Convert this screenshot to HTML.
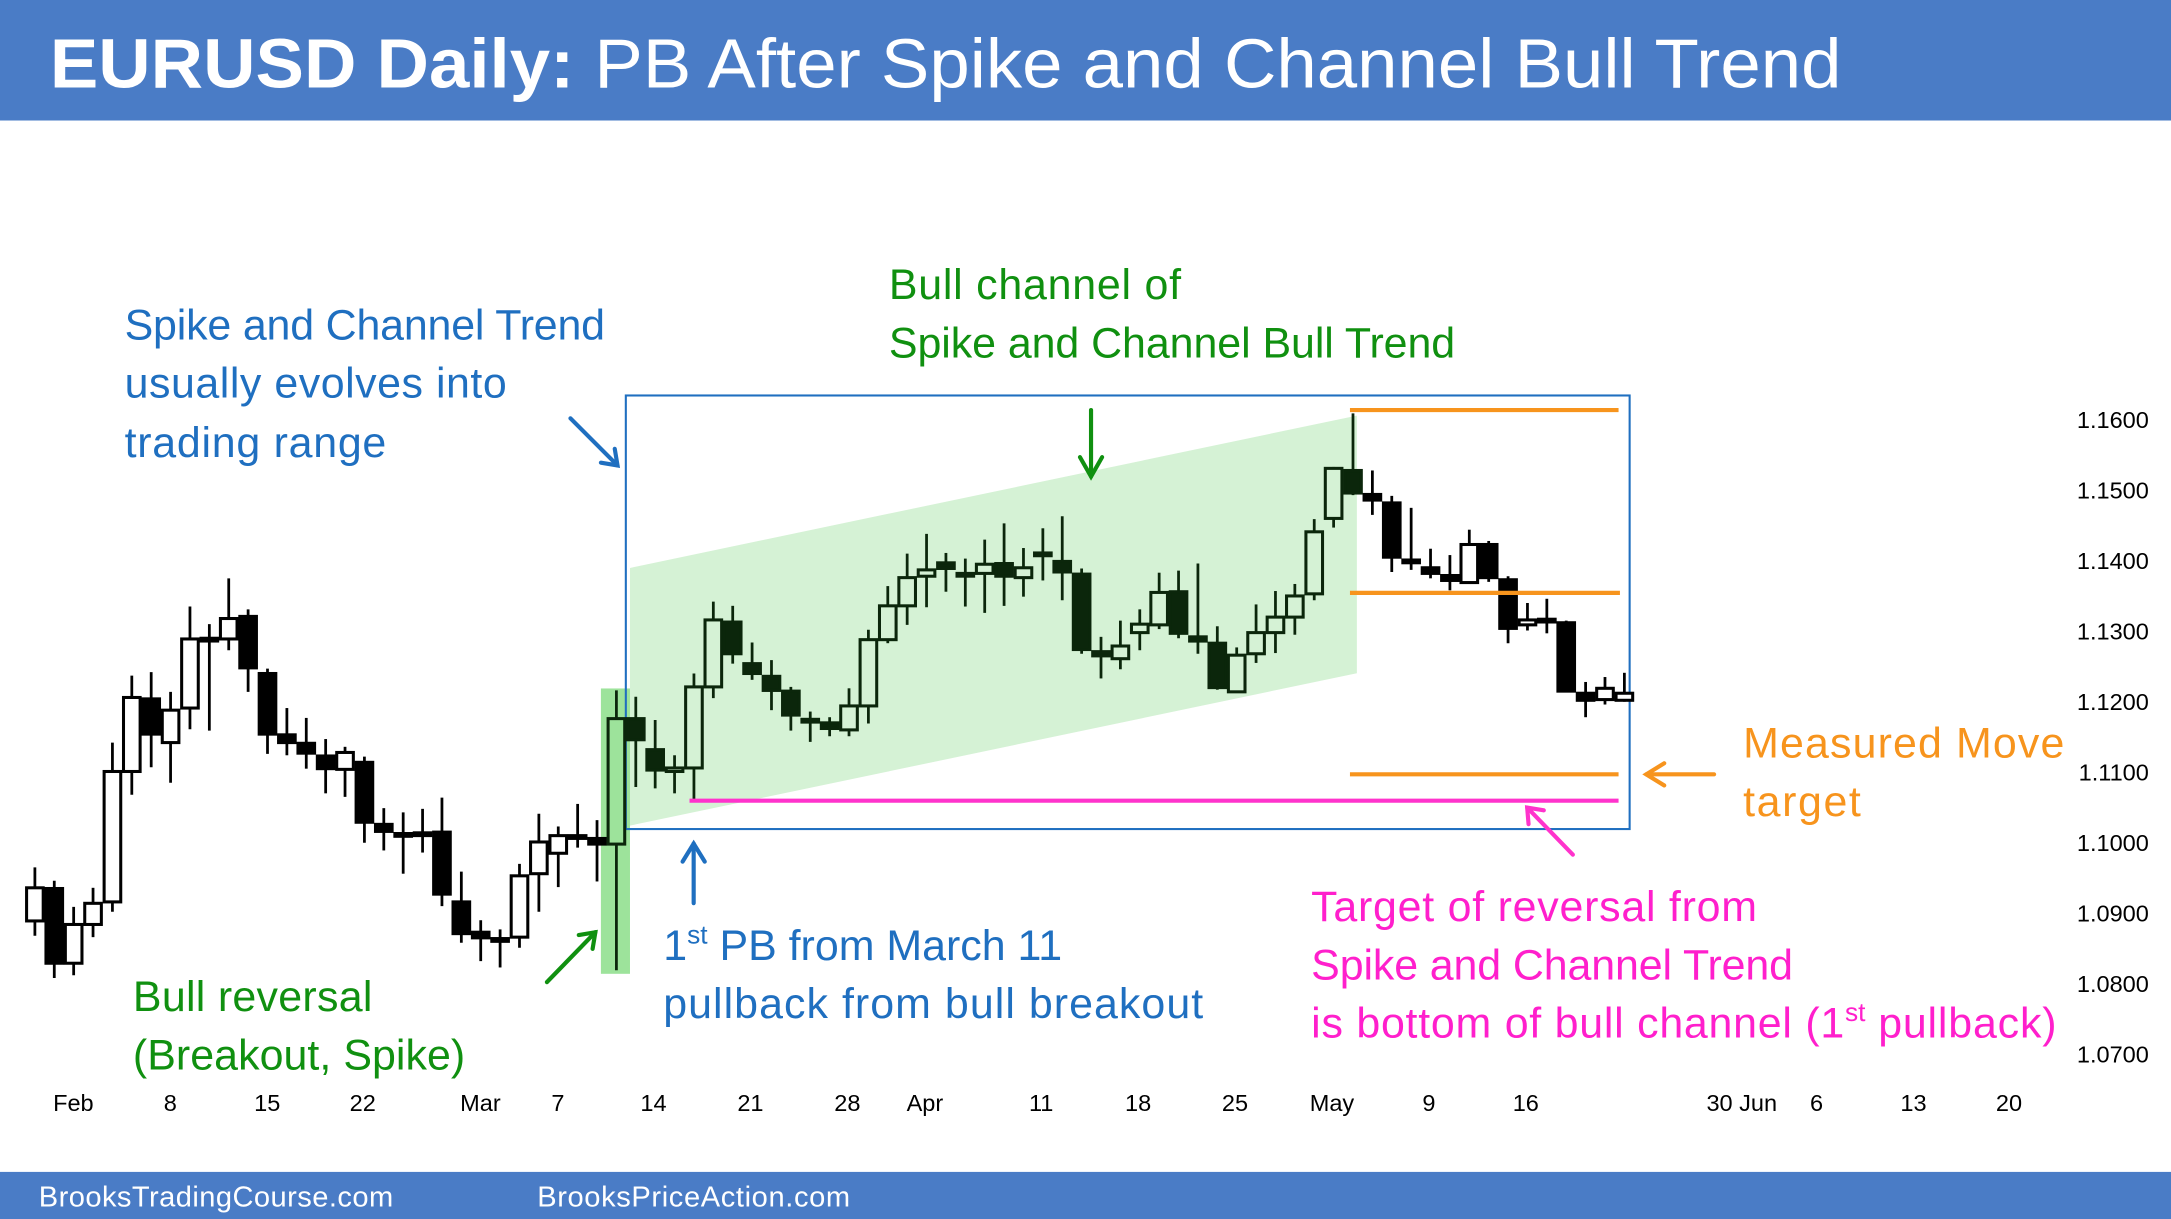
<!DOCTYPE html>
<html><head><meta charset="utf-8"><style>
html,body{margin:0;padding:0;background:#fff;overflow:hidden}
svg{display:block}
text{font-family:"Liberation Sans",sans-serif}
</style></head><body>
<svg id="chart" width="2171" height="1219" viewBox="0 0 1568 880" preserveAspectRatio="none" xmlns="http://www.w3.org/2000/svg">
<rect x="0" y="0" width="1568" height="87" fill="#4a7cc6"/>
<text x="36" y="63" fill="#fff" font-size="50" textLength="1294" lengthAdjust="spacingAndGlyphs"><tspan font-weight="bold">EURUSD Daily:</tspan> PB After Spike and Channel Bull Trend</text>
<rect x="0" y="846" width="1568" height="34" fill="#4a7cc6"/>
<text x="28" y="871" fill="#fff" font-size="21" textLength="256">BrooksTradingCourse.com</text>
<text x="388" y="871" fill="#fff" font-size="21" textLength="226">BrooksPriceAction.com</text>

<polygon points="455,410 980,300 980,486 455,596" fill="#d5f2d5"/>
<rect x="434" y="497" width="21" height="206" fill="#9de39b"/>
<rect x="452" y="285.5" width="725" height="313" fill="none" stroke="#1f6fc0" stroke-width="1.5"/>
<g id="candles"></g>
<g id="yaxis"></g>
<g id="xaxis"></g>

<line x1="975" y1="296" x2="1169" y2="296" stroke="#f7941d" stroke-width="3"/>
<line x1="975" y1="428" x2="1170" y2="428" stroke="#f7941d" stroke-width="3"/>
<line x1="975" y1="559" x2="1169" y2="559" stroke="#f7941d" stroke-width="3"/>
<line x1="498" y1="578" x2="1169" y2="578" stroke="#ff33cc" stroke-width="3"/>

<g stroke-width="3" fill="none" stroke-linecap="round">
<g stroke="#1f6fc0"><line x1="412" y1="302" x2="446" y2="336"/><polyline points="434,334 446,336 444,324"/></g>
<g stroke="#109010"><line x1="788" y1="296" x2="788" y2="344"/><polyline points="780,330 788,344 796,330"/></g>
<g stroke="#109010"><line x1="395" y1="709" x2="430" y2="673"/><polyline points="418,675 430,673 428,685"/></g>
<g stroke="#1f6fc0"><line x1="501" y1="652" x2="501" y2="609"/><polyline points="493,622 501,609 509,622"/></g>
<g stroke="#f7941d"><line x1="1238" y1="559" x2="1189" y2="559"/><polyline points="1202,551 1189,559 1202,567"/></g>
<g stroke="#ff33cc"><line x1="1136" y1="617" x2="1103" y2="583"/><polyline points="1104,595 1103,583 1115,585"/></g>
</g>

<g font-size="31">
<text x="90" y="245" fill="#1f6fc0" textLength="347">Spike and Channel Trend</text>
<text x="90" y="287" fill="#1f6fc0" textLength="276">usually evolves into</text>
<text x="90" y="330" fill="#1f6fc0" textLength="189">trading range</text>
<text x="642" y="216" fill="#109010" textLength="211">Bull channel of</text>
<text x="642" y="258" fill="#109010" textLength="409">Spike and Channel Bull Trend</text>
<text x="96" y="730" fill="#109010" textLength="173">Bull reversal</text>
<text x="96" y="772" fill="#109010" textLength="240">(Breakout, Spike)</text>
<text x="479" y="693" fill="#1f6fc0">1<tspan font-size="19" dy="-12">st</tspan><tspan dy="12"> PB from March 11</tspan></text>
<text x="479" y="735" fill="#1f6fc0" textLength="390">pullback from bull breakout</text>
<text x="1259" y="547" fill="#f7941d" textLength="232">Measured Move</text>
<text x="1259" y="589" fill="#f7941d" textLength="85">target</text>
<text x="947" y="665" fill="#ff1fcc" textLength="322">Target of reversal from</text>
<text x="947" y="707" fill="#ff1fcc" textLength="348">Spike and Channel Trend</text>
<text x="947" y="749" fill="#ff1fcc"><tspan textLength="385">is bottom of bull channel (1</tspan><tspan font-size="19" dy="-12">st</tspan><tspan dy="12" textLength="138"> pullback)</tspan></text>
</g>
</svg>
<script>
const highs=[1.0965,1.0946,1.0909,1.0936,1.1142,1.1237,1.1242,1.1214,1.1335,1.1310,1.1375,1.1331,1.1247,1.1191,1.1177,1.1147,1.1136,1.1122,1.1049,1.1043,1.1048,1.1064,1.0959,1.0890,1.0877,1.0970,1.1041,1.1023,1.1055,1.1032,1.1216,
1.1207,1.1174,1.1124,1.1240,1.1342,1.1336,1.1284,1.1259,1.1221,1.1186,1.1178,1.1219,1.1302,1.1364,1.1410,1.1438,1.1411,1.1403,1.1430,1.1453,1.1418,1.1446,1.1463,1.1389,1.1292,1.1315,1.1331,1.1383,1.1386,1.1396,1.1307,1.1277,1.1338,1.1357,1.1367,1.1459,1.1533,1.1609,
1.1528,1.1492,1.1475,1.1417,1.1408,1.1444,1.1428,1.1378,1.1340,1.1346,1.1315,1.1228,1.1235,1.1241];
const opens=[1.0889,1.0935,1.0829,1.0884,1.0916,1.1101,1.1204,1.1142,1.1191,1.1289,1.1289,1.1321,1.1240,1.1153,1.1141,1.1123,1.1104,1.1114,1.1026,1.1013,1.1013,1.1015,1.0916,1.0873,1.0863,1.0866,1.0956,1.0985,1.1010,1.1006,1.0998,
1.1176,1.1132,1.1101,1.1106,1.1221,1.1313,1.1254,1.1236,1.1215,1.1175,1.1170,1.1160,1.1194,1.1288,1.1336,1.1378,1.1397,1.1382,1.1382,1.1396,1.1376,1.1411,1.1399,1.1381,1.1271,1.1261,1.1298,1.1309,1.1356,1.1292,1.1283,1.1214,1.1268,1.1298,1.1320,1.1353,1.1460,1.1528,
1.1494,1.1482,1.1401,1.1390,1.1379,1.1369,1.1423,1.1373,1.1309,1.1317,1.1312,1.1212,1.1203,1.1202];
const closes=[1.0936,1.0829,1.0884,1.0914,1.1101,1.1206,1.1154,1.1188,1.1289,1.1290,1.1318,1.1248,1.1154,1.1142,1.1127,1.1105,1.1128,1.1029,1.1016,1.1012,1.1014,1.0927,1.0871,1.0865,1.0864,1.0953,1.1001,1.1010,1.1009,1.0998,1.1176,
1.1146,1.1103,1.1106,1.1221,1.1316,1.1268,1.1240,1.1216,1.1181,1.1174,1.1162,1.1194,1.1288,1.1336,1.1376,1.1387,1.1389,1.1381,1.1395,1.1378,1.1390,1.1410,1.1384,1.1274,1.1265,1.1279,1.1310,1.1355,1.1297,1.1286,1.1220,1.1266,1.1298,1.1320,1.1350,1.1441,1.1531,1.1496,
1.1486,1.1405,1.1400,1.1382,1.1372,1.1423,1.1376,1.1304,1.1316,1.1316,1.1215,1.1202,1.1219,1.1212];
const lows=[1.0868,1.0808,1.0812,1.0866,1.0902,1.1068,1.1107,1.1085,1.1161,1.1159,1.1273,1.1214,1.1126,1.1124,1.1105,1.1070,1.1065,1.1000,1.0989,1.0956,1.0986,1.0910,1.0858,1.0832,1.0823,1.0851,1.0902,1.0937,1.0993,1.0945,1.0819,
1.1079,1.1077,1.1070,1.1060,1.1205,1.1254,1.1231,1.1188,1.1159,1.1143,1.1151,1.1151,1.1169,1.1283,1.1309,1.1334,1.1356,1.1335,1.1326,1.1336,1.1349,1.1372,1.1344,1.1268,1.1233,1.1246,1.1273,1.1303,1.1290,1.1268,1.1217,1.1213,1.1255,1.1269,1.1295,1.1344,1.1447,1.1493,
1.1465,1.1384,1.1387,1.1375,1.1358,1.1368,1.1370,1.1283,1.1301,1.1297,1.1214,1.1178,1.1196,1.1200];
const yTicks=[1.16,1.15,1.14,1.13,1.12,1.11,1.10,1.09,1.08,1.07];
const xLabels=["Feb","8","15","22","Mar","7","14","21","28","Apr","11","18","25","May","9","16","30 Jun","6","13","20"];
const xLabelPos=[53,123,193,262,347,403,472,542,612,668,752,822,892,962,1032,1102,1258,1312,1382,1451];
const NS="http://www.w3.org/2000/svg";
const yScale=p=>303+(1.16-p)*5089;
const xScale=i=>25.2+14*i;
function mk(tag,attrs,parent){const e=document.createElementNS(NS,tag);for(const k in attrs)e.setAttribute(k,attrs[k]);parent.appendChild(e);return e;}
const cg=document.getElementById('candles');
for(let i=0;i<highs.length;i++){
  const x=xScale(i);const inCh=i>=30&&i<=68;const col=inCh?'#0b260b':'#000';
  const g=mk('g',{},cg);
  
  
  mk('line',{x1:x,x2:x,y1:yScale(highs[i]),y2:yScale(lows[i]),stroke:col,'stroke-width':2},g);
  const top=yScale(Math.max(opens[i],closes[i])),bot=yScale(Math.min(opens[i],closes[i]));
  const bull=closes[i]>=opens[i];
  const fill=bull?(i===30?'#9de39b':(inCh?'#d5f2d5':'#fff')):col;
  mk('rect',{x:x-6,y:top,width:12,height:Math.max(bot-top,2),fill:fill,stroke:col,'stroke-width':2.2},g);
}
const yg=document.getElementById('yaxis');
yTicks.forEach(t=>{const e=mk('text',{x:1552,y:yScale(t)+6,'text-anchor':'end','font-size':17,fill:'#000'},yg);e.textContent=t.toFixed(4);

});
const xg=document.getElementById('xaxis');
xLabels.forEach((l,i)=>{const e=mk('text',{x:xLabelPos[i],y:802,'text-anchor':'middle','font-size':17,fill:'#000'},xg);e.textContent=l;

});
</script>
</body></html>
